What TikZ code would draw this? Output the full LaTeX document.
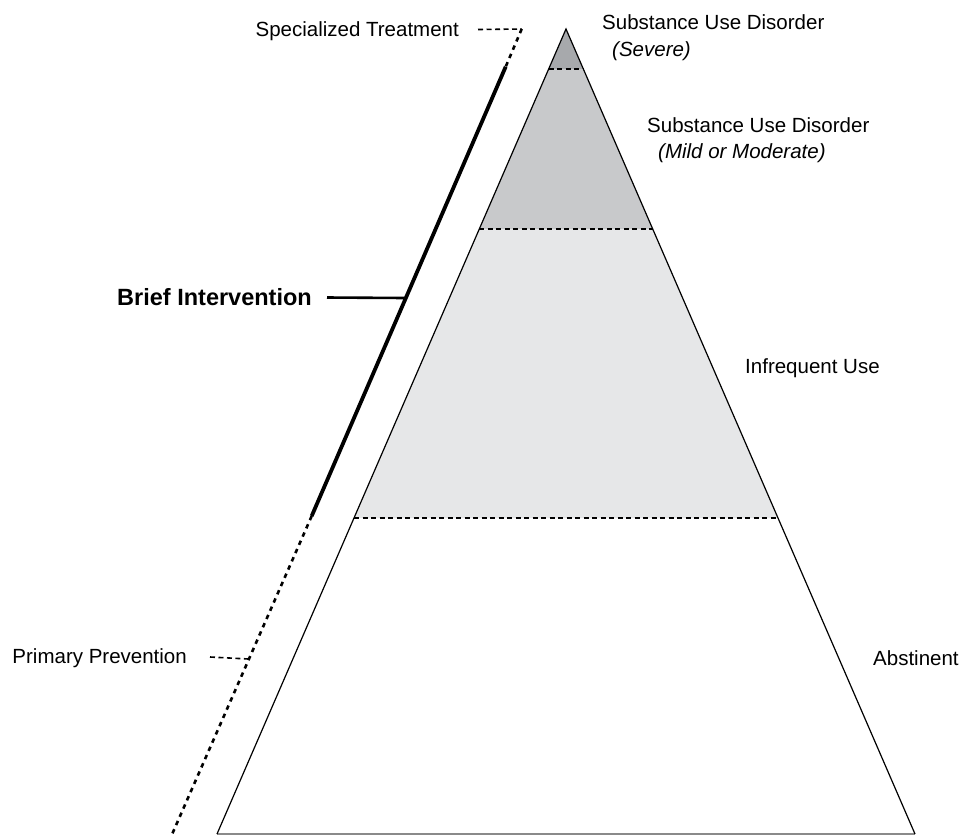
\documentclass[tikz,border=0pt]{standalone}
\usepackage{fontspec}
\setmainfont{Liberation Sans}
\definecolor{sevgray}{HTML}{A7A9AC}
\definecolor{modgray}{HTML}{C8C9CB}
\definecolor{infgray}{HTML}{E6E7E8}
\definecolor{basegray}{HTML}{8A8A8A}
\begin{document}
\begin{tikzpicture}[x=1pt,y=-1pt,
  lbl/.style={inner sep=0pt,text height=15pt,text depth=2pt,font=\fontsize{20.5}{24}\selectfont},
  boldlbl/.style={inner sep=0pt,text height=17pt,text depth=2pt,font=\bfseries\fontsize{23.5}{28}\selectfont},
  side/.style={draw=black,line width=1.2pt},
  sepline/.style={draw=black,line width=1.8pt,dash pattern=on 5pt off 3.5pt},
  outerdash/.style={draw=black,line width=2.6pt,dash pattern=on 4.5pt off 4.5pt},
  leaderdash/.style={draw=black,line width=1.6pt,dash pattern=on 5pt off 3.5pt},
  thickline/.style={draw=black,line width=3.8pt},
  briefline/.style={draw=black,line width=2.6pt}]
\useasboundingbox (0,0) rectangle (966,836);
% triangle corners and band boundaries
\coordinate (apex) at (566,29);
\coordinate (bl) at (217,834);
\coordinate (br) at (915,834);
\coordinate (s1l) at (548.7,69);
\coordinate (s1r) at (583.3,69);
\coordinate (s2l) at (479.3,229);
\coordinate (s2r) at (652.7,229);
\coordinate (s3l) at (354,518);
\coordinate (s3r) at (778,518);
% fills
\fill[sevgray] (apex) -- (s1r) -- (s1l) -- cycle;
\fill[modgray] (s1l) -- (s1r) -- (s2r) -- (s2l) -- cycle;
\fill[infgray] (s2l) -- (s2r) -- (s3r) -- (s3l) -- cycle;
\draw[sepline] (s1l) -- (s1r);
\draw[sepline] (s2l) -- (s2r);
\draw[sepline] (s3l) -- (s3r);
\draw[basegray,line width=1.3pt] (bl) -- (br);
\draw[side,line join=miter] (bl) -- (apex) -- (br);
% outer line
\coordinate (otop) at (521.7,29);
\coordinate (thtop) at (505.7,66.7);
\coordinate (thbot) at (311.7,516);
\coordinate (obot) at (171.3,836);
\coordinate (ppmeet) at (248.6,659);
\coordinate (bimeet) at (405,298);
\draw[outerdash] (otop) -- (thtop);
\draw[thickline] (thtop) -- (thbot);
\draw[outerdash] (thbot) -- (obot);
% labels
\node[lbl,anchor=east] (spec) at (459,29.5) {Specialized Treatment};
\node[lbl,anchor=west] (sud1) at (602,22.5) {Substance Use Disorder};
\node[lbl,anchor=west] (sev) at (612,49.5) {\itshape (Severe)};
\node[lbl,anchor=west] (sud2) at (647,125.5) {Substance Use Disorder};
\node[lbl,anchor=west] (mild) at (658,151.5) {\itshape (Mild or Moderate)};
\node[lbl,anchor=west] (infr) at (745,366.5) {Infrequent Use};
\node[lbl,anchor=west] (abst) at (873,659) {Abstinent};
\node[lbl,anchor=east] (prim) at (187,657) {Primary Prevention};
\node[boldlbl,anchor=east] (brief) at (312,297.5) {Brief Intervention};
% leaders
\draw[leaderdash] ([xshift=19pt]spec.east) -- (otop);
\draw[leaderdash] ([xshift=23pt]prim.east) -- (ppmeet);
\draw[briefline] ([xshift=15pt]brief.east) -- (bimeet);
\end{tikzpicture}
\end{document}
